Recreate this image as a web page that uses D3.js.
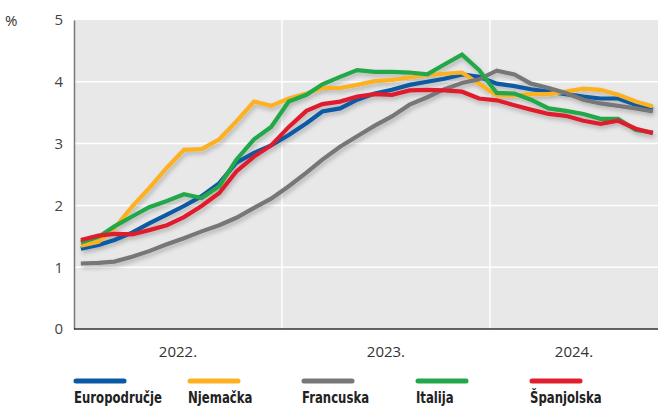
<!DOCTYPE html>
<html><head><meta charset="utf-8">
<script src="https://cdn.jsdelivr.net/npm/d3@7"></script>
<style>
html,body{margin:0;padding:0;background:#fff;}
svg{display:block;}
</style></head>
<body>
<svg id="chart" width="658" height="406"></svg>
<script>
// ---- data (monthly, Jan 2022 – Oct 2024) ----
const startYear = 2022, startMonth = 0;
const seriesNames = ["Europodručje", "Njemačka", "Francuska", "Italija", "Španjolska"];
const seriesColors = ["#0a5aa3", "#fbb122", "#777777", "#22a84a", "#df1f2d"];
const europodrucje = [1.30,1.36,1.44,1.56,1.71,1.85,1.99,2.15,2.36,2.69,2.85,2.97,3.14,3.33,3.52,3.57,3.71,3.81,3.87,3.95,4.00,4.05,4.12,4.08,3.97,3.93,3.88,3.84,3.80,3.76,3.73,3.73,3.63,3.55];
const njemacka = [1.35,1.41,1.63,1.98,2.28,2.61,2.90,2.91,3.07,3.36,3.68,3.61,3.73,3.81,3.90,3.90,3.95,4.01,4.03,4.07,4.11,4.13,4.15,3.97,3.78,3.78,3.80,3.80,3.84,3.89,3.87,3.79,3.68,3.60];
const francuska = [1.06,1.07,1.09,1.17,1.26,1.37,1.47,1.58,1.68,1.80,1.96,2.11,2.31,2.53,2.74,2.95,3.12,3.29,3.44,3.63,3.75,3.88,3.98,4.04,4.18,4.12,3.97,3.90,3.82,3.71,3.65,3.61,3.57,3.52];
const italija = [1.40,1.49,1.66,1.82,1.97,2.07,2.18,2.12,2.31,2.74,3.07,3.27,3.68,3.79,3.96,4.08,4.19,4.16,4.16,4.15,4.12,4.28,4.44,4.19,3.82,3.81,3.71,3.57,3.53,3.48,3.40,3.40,3.22,3.18];
const spanjolska = [1.44,1.51,1.54,1.53,1.60,1.68,1.81,1.99,2.20,2.55,2.79,2.97,3.27,3.53,3.64,3.68,3.76,3.80,3.79,3.86,3.87,3.86,3.84,3.73,3.70,3.62,3.55,3.48,3.45,3.37,3.32,3.37,3.24,3.17];
const yTicks = [0,1,2,3,4,5];
const yearLabels = ["2022.", "2023.", "2024."];
const yUnit = "%";

const allSeries = [europodrucje, njemacka, francuska, italija, spanjolska];

// ---- layout ----
const W = 658, H = 406;
const M = {left: 74, right: 0, top: 20, bottom: 77};
const svg = d3.select("#chart");

const x = d3.scaleTime()
  .domain([new Date(2022,0,1), new Date(2024,9,22)])
  .range([M.left, W - M.right]);
const y = d3.scaleLinear().domain([0,5]).range([H - M.bottom, M.top]);

const dateOf = i => new Date(startYear, startMonth + i, 13);

// filter for shadow
const defs = svg.append("defs");
const f = defs.append("filter").attr("id","shadow").attr("x","-10%").attr("y","-10%").attr("width","130%").attr("height","140%");
f.append("feDropShadow").attr("dx",1.5).attr("dy",3).attr("stdDeviation",2).attr("flood-color","#000").attr("flood-opacity",0.22);
defs.append("clipPath").attr("id","clip").append("rect")
  .attr("x", M.left).attr("y", M.top).attr("width", W - M.left - M.right).attr("height", H - M.bottom - M.top);

// background
svg.append("rect").attr("x", M.left).attr("y", M.top)
  .attr("width", W - M.left - M.right).attr("height", H - M.bottom - M.top)
  .attr("fill", "#e8e8e8");

// horizontal grid
svg.append("g").selectAll("line").data(yTicks.filter(d => d > 0 && d < 5)).join("line")
  .attr("x1", M.left).attr("x2", W - M.right)
  .attr("y1", d => y(d)).attr("y2", d => y(d))
  .attr("stroke", "#fff").attr("stroke-width", 1.5);

// vertical grid at year boundaries
const yearBounds = [new Date(2023,0,1), new Date(2024,0,1)];
svg.append("g").selectAll("line").data(yearBounds).join("line")
  .attr("x1", d => x(d)).attr("x2", d => x(d))
  .attr("y1", M.top).attr("y2", H - M.bottom)
  .attr("stroke", "#fff").attr("stroke-width", 1.5);

// y axis
const yAxis = svg.append("g").attr("transform", `translate(${M.left},0)`)
  .call(d3.axisLeft(y).tickValues(yTicks).tickSize(0).tickPadding(11).tickFormat(d3.format("d")));
yAxis.select(".domain").attr("stroke", "#777").attr("stroke-width", 1.5);
yAxis.selectAll("text").attr("font-family", "'Open Sans', sans-serif").attr("font-size", 15).attr("fill", "#444");

svg.append("text").attr("x", 5).attr("y", 26).text(yUnit)
  .attr("font-family", "'Open Sans', sans-serif").attr("font-size", 15).attr("fill", "#333");

// x axis (year labels centered in visible part of each year)
const yearCenters = yearLabels.map((t, k) => {
  const a = Math.max(x(new Date(2022 + k, 0, 1)), M.left);
  const b = Math.min(x(new Date(2023 + k, 0, 1)), W - M.right);
  return (a + b) / 2;
});
svg.append("line").attr("x1", M.left).attr("x2", W - M.right)
  .attr("y1", y(0)).attr("y2", y(0)).attr("stroke", "#333").attr("stroke-width", 1.5);
svg.append("g").selectAll("text").data(yearLabels).join("text")
  .attr("x", (d, k) => yearCenters[k]).attr("y", 357)
  .attr("text-anchor", "middle")
  .attr("font-family", "'Open Sans', sans-serif").attr("font-size", 15).attr("fill", "#333")
  .text(d => d);

// lines
const line = d3.line().x((d, i) => x(dateOf(i))).y(d => y(d));
const lg = svg.append("g").attr("clip-path", "url(#clip)").attr("filter", "url(#shadow)");
allSeries.forEach((s, k) => {
  lg.append("path").datum(s).attr("d", line)
    .attr("fill", "none").attr("stroke", seriesColors[k]).attr("stroke-width", 4.2)
    .attr("stroke-linejoin", "miter");
});

// legend
const legX = [74, 188, 302, 416, 530];
const leg = svg.append("g");
seriesNames.forEach((n, k) => {
  leg.append("line").attr("x1", legX[k] + 2).attr("x2", legX[k] + 50)
    .attr("y1", 381).attr("y2", 381)
    .attr("stroke", seriesColors[k]).attr("stroke-width", 5).attr("stroke-linecap", "round");
  leg.append("text").attr("transform", `translate(${legX[k]},403) scale(0.84,1)`).text(n)
    .attr("font-family", "'Liberation Sans Narrow', 'DejaVu Sans Condensed', sans-serif")
    .attr("font-weight", "bold").attr("font-size", 15.5).attr("fill", "#222");
});
</script>
</body></html>
